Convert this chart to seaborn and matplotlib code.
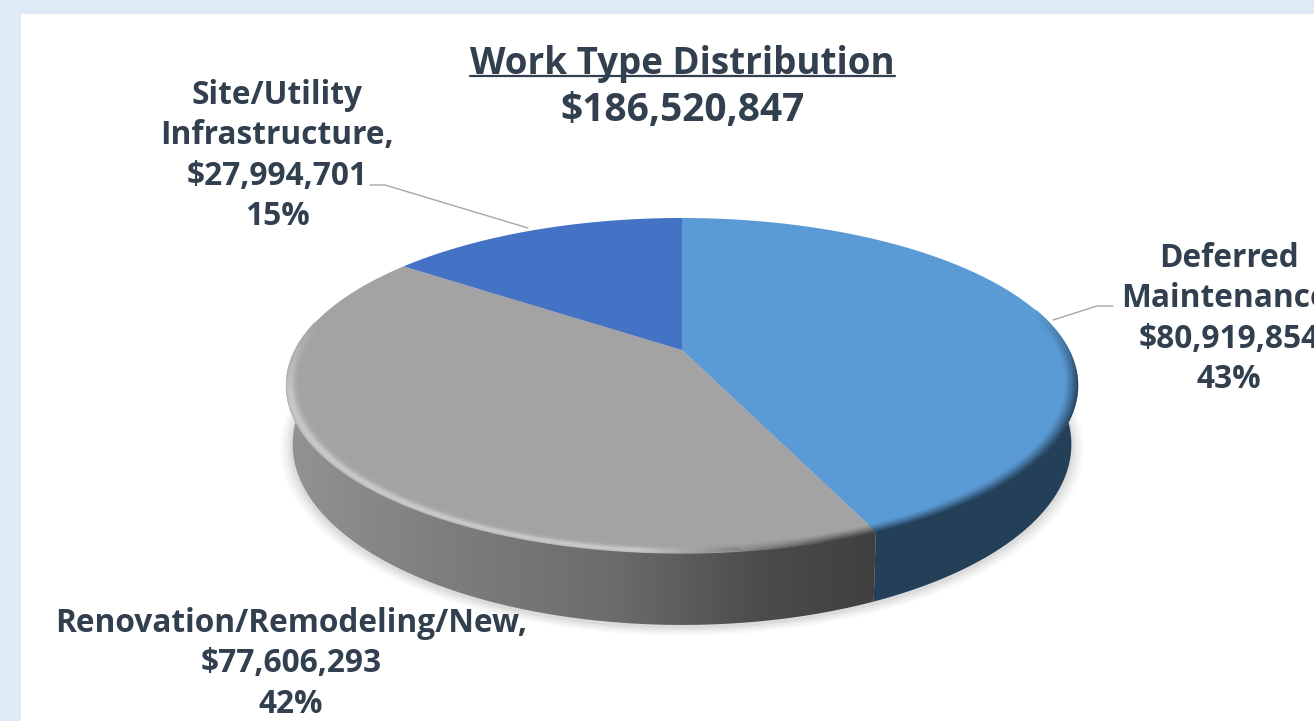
import numpy as np
import matplotlib
matplotlib.use("Agg")
import matplotlib.pyplot as plt
from matplotlib.collections import LineCollection
from matplotlib.colors import LinearSegmentedColormap, to_rgb
from matplotlib.patches import Polygon, Rectangle
from matplotlib.path import Path
from matplotlib.transforms import Affine2D, Transform
import seaborn as sns

categories = ["Deferred\nMaintenance,", "Renovation/Remodeling/New,", "Site/Utility\nInfrastructure,"]
amounts = [80919854, 77606293, 27994701]
amount_labels = ["$80,919,854", "$77,606,293", "$27,994,701"]
percent_labels = ["43%", "42%", "15%"]
total_label = "$186,520,847"
title_label = "Work Type Distribution"

face_colors = ["#5B9BD5", "#A3A3A3", "#4472C4"]
text_color = "#323F4F"

sns.set_theme(style="white")
plt.rcParams["font.family"] = ["Open Sans", "DejaVu Sans"]


class Tilt(Transform):
    # unit pie -> perspective ellipse in pixel coordinates
    input_dims = 2
    output_dims = 2
    is_separable = False
    has_inverse = False

    def __init__(self, cx, cy, a, b, k):
        super().__init__()
        self.p = (cx, cy, a, b, k)

    def transform_non_affine(self, xy):
        cx, cy, a, b, k = self.p
        xy = np.asarray(xy, dtype=float)
        w = 1 + k * xy[:, 1]
        return np.column_stack([cx + a * xy[:, 0] / w, cy - b * xy[:, 1] / w])

    def transform_path_non_affine(self, path):
        # flatten the bezier arcs first, control points do not survive a perspective map
        poly = Affine2D().scale(500).transform_path(path).to_polygons()[0] / 500
        return Path(self.transform_non_affine(poly))


top = Tilt(682, 350, 387, 160, 0.212)
bottom = Tilt(682, 405, 380, 172, 0.218)


def arc(theta1, theta2, radius=1.0, n=200):
    t = np.radians(np.linspace(theta1, theta2, n))
    return np.column_stack([radius * np.cos(t), radius * np.sin(t)])


def band(theta1, theta2):
    pts = arc(theta1, theta2)
    return np.vstack([top.transform_non_affine(pts), bottom.transform_non_affine(pts)[::-1]])


def mix(c1, c2, w):
    c1, c2 = np.array(to_rgb(c1)), np.array(to_rgb(c2))
    return tuple(c1 * (1 - w) + c2 * w)


fig = plt.figure(figsize=(13.14, 7.21), dpi=100, facecolor="#DEEAF5")
ax = fig.add_axes([0, 0, 1, 1])

wedges, _ = ax.pie(amounts, colors=face_colors, startangle=90, counterclock=False, radius=1)
for w in wedges:
    w.set_transform(top + ax.transData)
    w.set_zorder(5)
    w.set_linewidth(0)

ax.add_patch(Rectangle((21, 14), 1300, 720, fc="white", ec="none", zorder=0))

# slice borders from the amounts
fractions = np.array(amounts) / sum(amounts)
blue_end = 90 - 360 * fractions[0]

# soft shadow under the disc
for r, al in zip([1.03, 1.022, 1.014, 1.006], [0.025, 0.03, 0.04, 0.05]):
    s = bottom.transform_non_affine(arc(0, 360, r))
    ax.add_patch(Polygon(s + [0, 2], closed=True, fc="black", ec="none", alpha=al, zorder=1))

# gray side wall, gradient left to right
grad = LinearSegmentedColormap.from_list(
    "side", [(0, "#939393"), (0.25, "#7F7F7F"), (0.55, "#6C6C6C"), (0.8, "#4C4C4C"), (1, "#3F3F3F")])
clip = Polygon(band(blue_end, -185), closed=True, fc="none", ec="none", zorder=2)
ax.add_patch(clip)
im = ax.imshow(np.linspace(0, 1, 256).reshape(1, -1), cmap=grad, extent=(285, 880, 640, 340),
               aspect="auto", zorder=2)
im.set_clip_path(clip)

# blue side wall
ax.add_patch(Polygon(band(blue_end, 12), closed=True, fc="#243F58", ec="none", zorder=3))

# rim bevel along the front edge
segs, cols = [], []
radii = np.linspace(0.998, 0.965, 12)
angles = np.linspace(blue_end, -190, 220)
angles_blue = np.linspace(15, blue_end, 80)
for r in radii:
    depth = np.clip((1 - r) / 0.035, 0, 1)
    for th1, th2 in zip(angles_blue[:-1], angles_blue[1:]):
        p = top.transform_non_affine(arc(th1, th2, r, 2))
        on = np.clip((15 - th1) / 25, 0, 1)
        segs.append(p)
        cols.append(mix("#5B9BD5", "#243F58", on * (1 - depth) ** 1.3))
    for th1, th2 in zip(angles[:-1], angles[1:]):
        p = top.transform_non_affine(arc(th1, th2, r, 2))
        on = np.clip((th1 + 190) / 25, 0, 1)
        right = np.clip((p[0, 0] - 640) / 200, 0, 1)
        rim = mix("#CACACA", "#3F3F3F", right)
        prof = np.exp(-((depth - 0.3) / 0.35) ** 2) if right < 0.5 else (1 - depth) ** 1.3
        segs.append(p)
        cols.append(mix("#A3A3A3", rim, on * prof))
ax.add_collection(LineCollection(segs, colors=cols, linewidths=1.6, zorder=6, capstyle="butt"))

# leader lines
ax.plot([370, 385, 528], [185, 185, 228], color="#A6A6A6", lw=1, zorder=4)
ax.plot([1113, 1097, 1053], [306, 306, 320], color="#A6A6A6", lw=1, zorder=4)

# title
ax.text(682, 64, title_label, ha="center", va="center", fontsize=26.5, fontweight="bold", color=text_color)
ax.plot([470, 895], [76, 76], color=text_color, lw=1.6, zorder=4)
ax.text(682, 111, total_label, ha="center", va="center", fontsize=28, fontweight="bold", color=text_color)

label_pos = [(1229, 319), (291, 664), (277, 156)]
for name, amt, pct, (x, y) in zip(categories, amount_labels, percent_labels, label_pos):
    ax.text(x, y, name + "\n" + amt + "\n" + pct, ha="center", va="center", fontsize=22.8, fontweight="bold",
            color=text_color, linespacing=1.3, zorder=7, clip_on=True)

ax.set_xlim(0, 1314)
ax.set_ylim(721, 0)
ax.set_aspect("auto")
ax.axis("off")

fig.savefig("out.png", dpi=100, facecolor=fig.get_facecolor())
